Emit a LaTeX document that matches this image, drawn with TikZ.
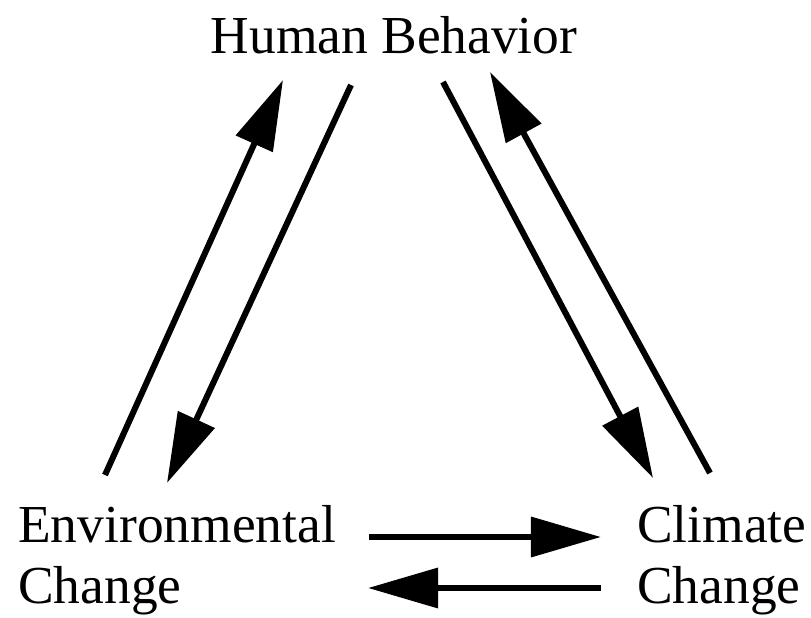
\documentclass[tikz,border=0pt]{standalone}
\usepackage{fontspec}
\setmainfont{Liberation Serif}
\usetikzlibrary{arrows.meta}

\begin{document}
\begin{tikzpicture}[x=0.025cm,y=-0.025cm,
    txt/.style={font=\fontsize{38}{43}\selectfont,inner sep=0pt},
    link/.style={line width=4.3pt,-{Triangle[length=1.75cm,width=0.98cm]}}]
  \useasboundingbox (0,0) rectangle (811,618);

  \node[txt,anchor=base] (human) at (394,53) {Human Behavior};
  \node[txt,anchor=base west,align=left] (env) at (18,603) {Environmental\\Change};
  \node[txt,anchor=base west,align=left] (clim) at (637,603) {Climate\\Change};

  % arrow ends
  \coordinate (envup0) at (105,475);   \coordinate (envup1) at (283,80);
  \coordinate (humdn0) at (351,85);    \coordinate (humdn1) at (167,483);
  \coordinate (humcl0) at (443,82);    \coordinate (humcl1) at (653,478);
  \coordinate (clup0) at (710,473);    \coordinate (clup1) at (490,72);
  \coordinate (encl0) at (369,537);    \coordinate (encl1) at (601,537);
  \coordinate (clen0) at (601,588);    \coordinate (clen1) at (368,588);

  \draw[link] (envup0) -- (envup1);
  \draw[link] (humdn0) -- (humdn1);
  \draw[link] (humcl0) -- (humcl1);
  \draw[link] (clup0) -- (clup1);
  \draw[link] (encl0) -- (encl1);
  \draw[link] (clen0) -- (clen1);
\end{tikzpicture}
\end{document}
